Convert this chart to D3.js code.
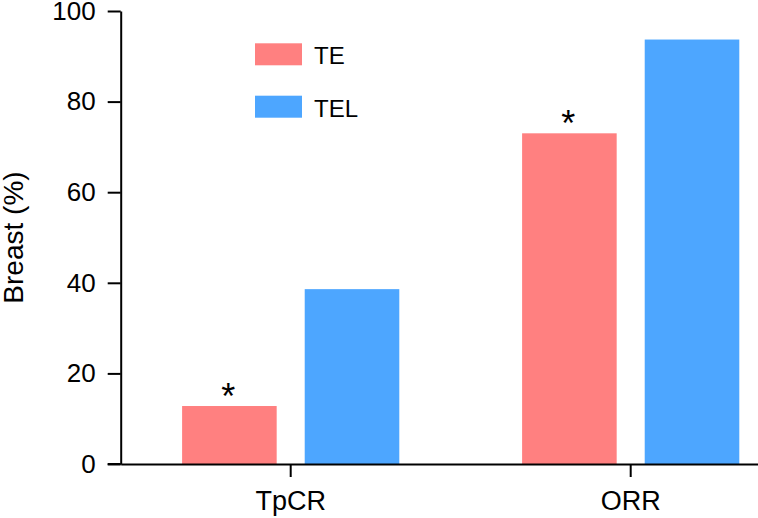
<!DOCTYPE html>
<html>
<head>
<meta charset="utf-8">
<script src="https://cdn.jsdelivr.net/npm/d3@7"></script>
<style>
  html, body { margin: 0; padding: 0; background: #fff; }
  svg { display: block; }
  text { font-family: "Liberation Sans", Arial, Helvetica, sans-serif; fill: #000; }
</style>
</head>
<body>
<svg id="chart" width="758" height="518"></svg>
<script>
const categories = ["TpCR", "ORR"];
const seriesNames = ["TE", "TEL"];
const teValues = [12.8, 73.0];
const telValues = [38.6, 93.7];
const significant = [true, true]; // asterisk above TE bars
const yTicks = [0, 20, 40, 60, 80, 100];
const colors = ["#ff8080", "#4da6ff"];

const svg = d3.select("#chart");
const yAxisX = 120.7;
const y = d3.scaleLinear().domain([0, 100]).range([464, 11]);
const x0 = d3.scaleBand().domain(categories).range([yAxisX, yAxisX + 680]).padding(0);
const x1 = d3.scaleBand().domain(seriesNames)
  .range([x0.bandwidth() / 2 - 108.6, x0.bandwidth() / 2 + 108.6])
  .paddingInner(0.2286).paddingOuter(0);

const rows = categories.map((c, i) => ({ cat: c, vals: [teValues[i], telValues[i]], sig: significant[i] }));

// bars
const groups = svg.append("g").selectAll("g").data(rows).join("g")
  .attr("transform", d => `translate(${x0(d.cat)},0)`);
groups.selectAll("rect").data(d => d.vals.map((v, j) => ({ name: seriesNames[j], v, j })))
  .join("rect")
  .attr("x", d => x1(d.name))
  .attr("width", x1.bandwidth())
  .attr("y", d => y(d.v))
  .attr("height", d => y(0) - y(d.v))
  .attr("fill", d => colors[d.j]);

// asterisks
groups.filter(d => d.sig).append("text")
  .attr("x", x1("TE") + x1.bandwidth() / 2 - 1)
  .attr("y", d => y(d.vals[0]) + 3)
  .attr("text-anchor", "middle")
  .style("font-size", "36px")
  .text("*");

// y axis
const yAxis = svg.append("g").attr("transform", `translate(${yAxisX},0)`)
  .call(d3.axisLeft(y).tickValues(yTicks).tickSize(13).tickSizeOuter(0).tickPadding(12));
yAxis.selectAll("text").style("font-size", "26px").style("font-family", '"Liberation Sans", Arial, sans-serif');

// x axis
const xAxis = svg.append("g").attr("transform", `translate(0,${y(0)})`)
  .call(d3.axisBottom(x0).tickSize(13).tickSizeOuter(0).tickPadding(14));
xAxis.selectAll("text").style("font-size", "27px").style("font-family", '"Liberation Sans", Arial, sans-serif');

svg.selectAll(".domain, .tick line").attr("stroke", "#000").attr("stroke-width", 2);
// extend x axis line to the left under y tick
svg.append("line").attr("x1", yAxisX - 13).attr("x2", yAxisX).attr("y1", y(0)).attr("y2", y(0))
  .attr("stroke", "#000").attr("stroke-width", 2);

// y label
svg.append("text")
  .attr("transform", `translate(23,${(y(0) + y(100)) / 2}) rotate(-90)`)
  .attr("text-anchor", "middle")
  .style("font-size", "28px")
  .text("Breast (%)");

// legend
const legendY = [43.3, 95.7];
const legend = svg.append("g").selectAll("g").data(seriesNames).join("g")
  .attr("transform", (d, i) => `translate(255,${legendY[i]})`);
legend.append("rect").attr("width", 47).attr("height", 22).attr("fill", (d, i) => colors[i]);
legend.append("text").attr("x", 59).attr("y", 21).style("font-size", "24px").text(d => d);
</script>
</body>
</html>
